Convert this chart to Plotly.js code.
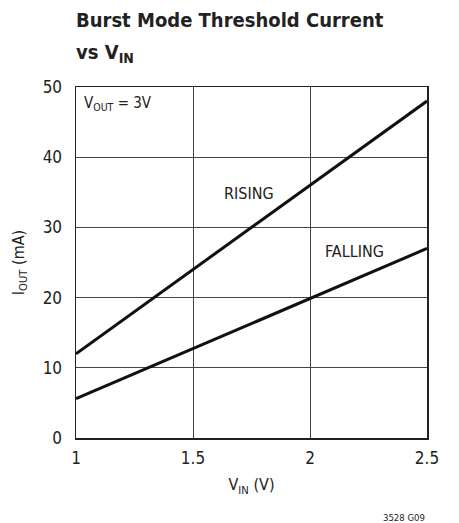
<!DOCTYPE html>
<html>
<head>
<meta charset="utf-8">
<script src="https://cdn.plot.ly/plotly-3.0.1.min.js"></script>
<style>html,body{margin:0;padding:0;background:#fff;}#chart{width:459px;height:523px;}</style>
</head>
<body>
<div id="chart"></div>
<script>
// Data
const vin = [1, 2.5];
const risingIout = [12, 48];
const fallingIout = [5.6, 27];
const xTicks = [1, 1.5, 2, 2.5];
const xTickLabels = ['1', '1.5', '2', '2.5'];
const yTicks = [0, 10, 20, 30, 40, 50];
const yTickLabels = ['0', '10', '20', '30', '40', '50'];

const FONT = '"DejaVu Sans Condensed", "Liberation Sans Narrow", Arial, sans-serif';

const traces = [
  {x: vin, y: risingIout, mode: 'lines', line: {color: '#111', width: 3}, name: 'RISING', hoverinfo: 'skip'},
  {x: vin, y: fallingIout, mode: 'lines', line: {color: '#111', width: 3}, name: 'FALLING', hoverinfo: 'skip'}
];

const layout = {
  width: 459, height: 523,
  margin: {l: 76, r: 32, t: 87, b: 85, pad: 0},
  paper_bgcolor: '#fff', plot_bgcolor: '#fff',
  showlegend: false,
  font: {family: FONT, color: '#222', size: 16},
  xaxis: {
    range: [1, 2.5], tickvals: xTicks, ticktext: xTickLabels,
    showgrid: true, gridcolor: '#444', gridwidth: 1,
    showline: true, linecolor: '#222', linewidth: 1.5, mirror: true,
    ticks: '', ticklabelstandoff: 4, zeroline: false,
    tickfont: {family: FONT, size: 17, color: '#222'},
    title: {text: 'V<sub>IN</sub> (V)', font: {family: FONT, size: 16, color: '#222'}, standoff: 12}
  },
  yaxis: {
    range: [0, 50], tickvals: yTicks, ticktext: yTickLabels,
    showgrid: true, gridcolor: '#444', gridwidth: 1,
    showline: true, linecolor: '#222', linewidth: 1.5, mirror: true,
    ticks: '', ticklabelstandoff: 9, zeroline: false,
    tickfont: {family: FONT, size: 17, color: '#222'},
    title: {text: 'I<sub>OUT</sub> (mA)', font: {family: FONT, size: 16, color: '#222'}, standoff: 14}
  },
  annotations: [
    {text: '<b>Burst Mode Threshold Current</b>', x: 0, y: 1, xref: 'paper', yref: 'paper', xanchor: 'left', yanchor: 'middle', yshift: 67, xshift: -2, showarrow: false, font: {family: FONT, size: 20, color: '#222'}},
    {text: '<b>vs V<sub>IN</sub></b>', x: 0, y: 1, xref: 'paper', yref: 'paper', xanchor: 'left', yanchor: 'middle', yshift: 34, xshift: -2, showarrow: false, font: {family: FONT, size: 20, color: '#222'}},
    {text: 'V<sub>OUT</sub> = 3V', x: 0.018, y: 0.985, xref: 'paper', yref: 'paper', xanchor: 'left', yanchor: 'top', showarrow: false, font: {family: FONT, size: 15, color: '#222'}},
    {text: 'RISING', x: 1.74, y: 34.8, xref: 'x', yref: 'y', xanchor: 'center', yanchor: 'middle', showarrow: false, font: {family: FONT, size: 16, color: '#222'}},
    {text: 'FALLING', x: 2.19, y: 26.5, xref: 'x', yref: 'y', xanchor: 'center', yanchor: 'middle', showarrow: false, font: {family: FONT, size: 16, color: '#222'}},
    {text: '3528 G09', x: 1, y: -0.227, xref: 'paper', yref: 'paper', xanchor: 'right', yanchor: 'middle', showarrow: false, font: {family: FONT, size: 9.5, color: '#222'}}
  ]
};

Plotly.newPlot('chart', traces, layout, {displayModeBar: false, staticPlot: true});
</script>
</body>
</html>
